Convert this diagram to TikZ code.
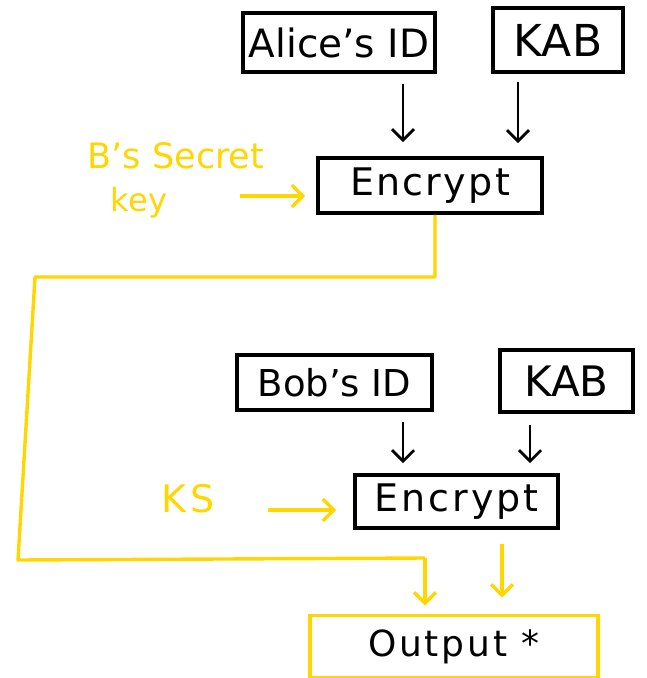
\documentclass[tikz,border=0pt]{standalone}
\usepackage{fontspec}
\setmainfont{DejaVu Sans}
\usetikzlibrary{arrows.meta}
\definecolor{hlyellow}{RGB}{255,214,0}
\begin{document}
\begin{tikzpicture}[x=1pt,y=-1pt,
  box/.style={draw=black,line width=3.6pt,inner sep=0pt,text=black},
  ybox/.style={draw=hlyellow,line width=3.6pt,inner sep=0pt,text=black},
  blkarrow/.style={draw=black,line width=2.8pt,-{Straight Barb[length=11pt,width=22pt,line width=2.8pt]}},
  ylwarrow/.style={draw=hlyellow,line width=3.4pt,-{Straight Barb[length=11pt,width=22pt,line width=3.4pt]}},
  ylwline/.style={draw=hlyellow,line width=3.4pt,line join=round},
  ylabel/.style={text=hlyellow,inner sep=0pt}]
\useasboundingbox (0,0) rectangle (646,678);
% top stage
\node[box,minimum width=192pt,minimum height=59pt,font=\fontsize{39}{42}\selectfont] (alice) at (339,42.5) {Alice's ID};
\node[box,minimum width=130pt,minimum height=64pt,font=\fontsize{44}{46}\selectfont] (kabone) at (558,40) {KAB};
\node[box,minimum width=224pt,minimum height=55pt,font=\addfontfeatures{LetterSpace=6}\fontsize{38}{40}\selectfont] (encone) at (430,185.5) {Encrypt};
\node[ylabel,font=\fontsize{35}{38}\selectfont] (bsecret) at (176,156) {B's Secret};
\node[ylabel,font=\fontsize{32}{34}\selectfont] (keylbl) at (139,203) {key};
\coordinate (aonex) at (403,0);
\coordinate (konex) at (518,0);
\draw[blkarrow,shorten <=10pt,shorten >=14pt] (alice.south -| aonex) -- (encone.north -| aonex);
\draw[blkarrow,shorten <=8pt,shorten >=13pt] (kabone.south -| konex) -- (encone.north -| konex);
\coordinate (bsrc) at (240,196);
\draw[ylwarrow,shorten >=11pt] (bsrc) -- (bsrc -| encone.west);
% bottom stage
\node[box,minimum width=195pt,minimum height=55pt,font=\fontsize{37}{40}\selectfont] (bob) at (334.5,382.5) {Bob's ID};
\node[box,minimum width=133pt,minimum height=62pt,font=\fontsize{42}{44}\selectfont] (kabtwo) at (566.5,381) {KAB};
\node[box,minimum width=203pt,minimum height=53pt,font=\addfontfeatures{LetterSpace=8}\fontsize{38}{40}\selectfont] (enctwo) at (456.5,501.5) {Encrypt};
\node[ylabel,font=\addfontfeatures{LetterSpace=10}\fontsize{38}{40}\selectfont] (kslbl) at (188,499) {KS};
\coordinate (btwox) at (403,0);
\coordinate (ktwox) at (530,0);
\draw[blkarrow,shorten <=10pt,shorten >=10pt] (bob.south -| btwox) -- (enctwo.north -| btwox);
\draw[blkarrow,shorten <=11pt,shorten >=10pt] (kabtwo.south -| ktwox) -- (enctwo.north -| ktwox);
\coordinate (kssrc) at (268,510);
\draw[ylwarrow,shorten >=17pt] (kssrc) -- (kssrc -| enctwo.west);
% output
\node[ybox,minimum width=288pt,minimum height=62pt,font=\addfontfeatures{LetterSpace=8}\fontsize{36}{38}\selectfont] (out) at (454,646.5) {Output *};
% long yellow connector
\coordinate (dropx) at (435,0);
\coordinate (cornerA) at (435,277);
\coordinate (cornerB) at (35,277);
\coordinate (cornerC) at (18,560);
\coordinate (cornerD) at (425,558);
\draw[ylwline] (encone.south -| dropx) -- (cornerA) -- (cornerB) -- (cornerC) -- (cornerD);
\draw[ylwarrow,shorten >=8pt] (cornerD) -- (out.north -| cornerD);
\coordinate (outtwox) at (502,0);
\draw[ylwarrow,shorten <=14pt,shorten >=16pt] (enctwo.south -| outtwox) -- (out.north -| outtwox);
\end{tikzpicture}
\end{document}
